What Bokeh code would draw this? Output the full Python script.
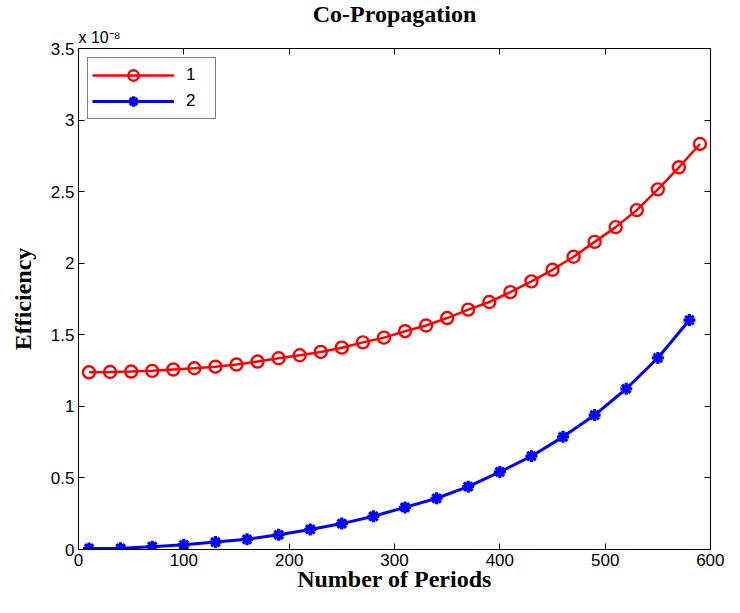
import math
from bokeh.plotting import figure
from bokeh.models import Range1d, LinearAxis, Title, FixedTicker
from bokeh.embed import file_html
from bokeh.resources import INLINE

# ---- data (efficiency in units of 1e-8) ----
x_series1 = [10, 30, 50, 70, 90, 110, 130, 150, 170, 190, 210, 230, 250, 270, 290,
             310, 330, 350, 370, 390, 410, 430, 450, 470, 490, 510, 530, 550, 570, 590]
y_series1 = [1.238, 1.240, 1.243, 1.248, 1.257, 1.266, 1.277, 1.292, 1.313, 1.336,
             1.357, 1.380, 1.410, 1.447, 1.480, 1.525, 1.565, 1.617, 1.676, 1.729,
             1.798, 1.873, 1.954, 2.045, 2.149, 2.252, 2.371, 2.516, 2.670, 2.833]
x_series2 = [10, 40, 70, 100, 130, 160, 190, 220, 250, 280,
             310, 340, 370, 400, 430, 460, 490, 520, 550, 580]
y_series2 = [0.007, 0.008, 0.020, 0.033, 0.052, 0.071, 0.103, 0.140, 0.181, 0.232,
             0.294, 0.358, 0.439, 0.542, 0.652, 0.787, 0.939, 1.123, 1.338, 1.603]
series_names = ["1", "2"]
x_ticks = [0, 100, 200, 300, 400, 500, 600]
y_ticks = [0, 0.5, 1, 1.5, 2, 2.5, 3, 3.5]
y_tick_labels = ["0", "0.5", "1", "1.5", "2", "2.5", "3", "3.5"]
title_text = "Co-Propagation"
x_label = "Number of Periods"
y_label = "Efficiency"
exp_text = "x 10\u207b\u2078"

SERIF = "Liberation Serif"
SANS = "Liberation Sans"

p = figure(width=724, height=597, output_backend="svg", toolbar_location=None,
           x_range=Range1d(0, 600), y_range=Range1d(0, 3.5),
           min_border_left=78, min_border_right=14, min_border_top=48, min_border_bottom=48)
p.xgrid.visible = False
p.ygrid.visible = False
p.outline_line_color = "black"
p.outline_line_width = 1
p.background_fill_color = "white"
p.border_fill_color = "white"

p.title.text = title_text
p.title.align = "center"
p.title.text_font = SERIF
p.title.text_font_style = "bold"
p.title.text_font_size = "24px"
p.title.text_color = "black"
p.title.offset = 0
try:
    p.title.standoff = -6
    exp_standoff = 6
except Exception:
    p.title.standoff = 0
    exp_standoff = 0

def style_axis(ax, show_labels=True):
    ax.major_tick_in = 6
    ax.major_tick_out = 0
    ax.minor_tick_in = 0
    ax.minor_tick_out = 0
    ax.axis_line_color = "black"
    ax.major_tick_line_color = "black"
    ax.major_label_text_font = SANS
    ax.major_label_text_font_size = "17px"
    ax.major_label_text_color = "black"
    ax.major_label_standoff = 4
    ax.axis_label_text_font = SERIF
    ax.axis_label_text_font_style = "bold"
    ax.axis_label_text_font_size = "24px"
    ax.axis_label_text_color = "black"
    if not show_labels:
        ax.major_label_text_font_size = "0px"
        ax.major_label_text_alpha = 0
        ax.major_label_standoff = 0

p.xaxis.ticker = FixedTicker(ticks=x_ticks)
p.yaxis.ticker = FixedTicker(ticks=y_ticks)
p.yaxis.major_label_overrides = {t: l for t, l in zip(y_ticks, y_tick_labels)}
style_axis(p.xaxis[0])
style_axis(p.yaxis[0])
p.xaxis.axis_label = x_label
p.xaxis.axis_label_standoff = -3
p.yaxis.axis_label = y_label
p.yaxis.axis_label_standoff = 12

top_axis = LinearAxis(ticker=FixedTicker(ticks=x_ticks))
style_axis(top_axis, show_labels=False)
p.add_layout(top_axis, "above")
right_axis = LinearAxis(ticker=FixedTicker(ticks=y_ticks))
style_axis(right_axis, show_labels=False)
p.add_layout(right_axis, "right")

# exponent marker (left-aligned, just above the frame)
p.add_layout(Title(text=exp_text, align="left", text_font=SANS, text_font_style="normal",
                   text_font_size="16px", text_color="black", standoff=exp_standoff, offset=0),
             "above")

# series 1
p.line(x_series1, y_series1, line_color="#ff0000", line_width=2.5, legend_label=series_names[0])
p.scatter(x_series1, y_series1, marker="circle", size=12, fill_color=None,
          line_color="#ff0000", line_width=2.4, legend_label=series_names[0])
# series 2
p.line(x_series2, y_series2, line_color="#0000ff", line_width=3, legend_label=series_names[1])
p.scatter(x_series2, y_series2, marker="asterisk", size=12,
          line_color="#0000ff", line_width=3.2, legend_label=series_names[1])

lg = p.legend[0]
lg.location = "top_left"
lg.margin = 9
lg.padding = 4
lg.spacing = 0
lg.glyph_height = 26
lg.glyph_width = 82
lg.label_standoff = 12
lg.label_width = 25
lg.label_text_font = SANS
lg.label_text_font_size = "17px"
lg.label_text_color = "black"
lg.border_line_color = "black"
lg.border_line_width = 1
lg.background_fill_alpha = 1

open("out.html", "w").write(file_html(p, INLINE))
